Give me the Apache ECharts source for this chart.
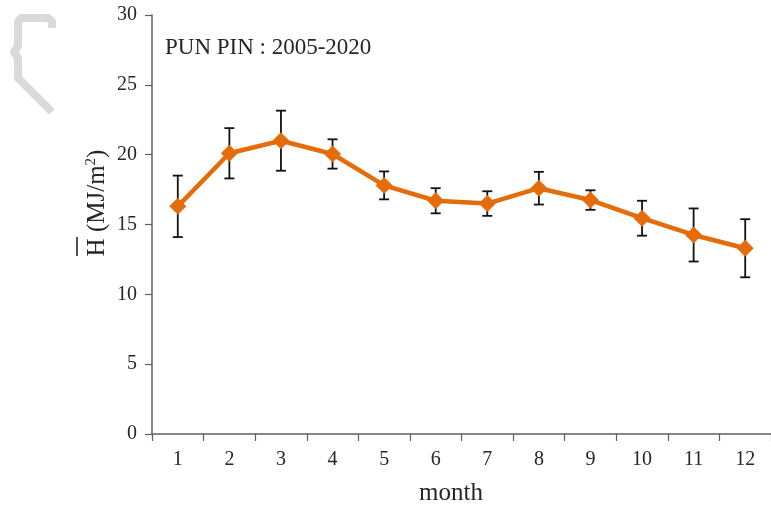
<!DOCTYPE html>
<html>
<head>
<meta charset="utf-8">
<script src="https://cdn.jsdelivr.net/npm/echarts@6/dist/echarts.min.js"></script>
<style>
  html, body { margin: 0; padding: 0; background: #fff; }
  #chart { width: 771px; height: 506px; }
</style>
</head>
<body>
<div id="chart"></div>
<script>
// Monthly mean daily irradiation (MJ/m²) with ± standard deviation
const months = ['1', '2', '3', '4', '5', '6', '7', '8', '9', '10', '11', '12'];
const meanH = [16.3, 20.1, 21.0, 20.05, 17.8, 16.7, 16.5, 17.6, 16.75, 15.45, 14.25, 13.3];
const stdH = [2.2, 1.8, 2.15, 1.05, 1.0, 0.9, 0.88, 1.17, 0.7, 1.25, 1.9, 2.08];
const yTicks = { min: 0, max: 30, interval: 5 };

const serif = '"Liberation Serif", "Times New Roman", serif';
const axisGray = '#5f5f5f';
const orange = '#E46C0A';

const errData = months.map((m, i) => [i, meanH[i] - stdH[i], meanH[i] + stdH[i]]);

const chart = echarts.init(document.getElementById('chart'), null, { renderer: 'canvas' });

chart.setOption({
  animation: false,
  backgroundColor: '#fff',
  grid: { left: 152, top: 15, bottom: 72, right: -10, containLabel: false },
  xAxis: {
    type: 'category',
    data: months,
    boundaryGap: true,
    axisLine: { lineStyle: { color: axisGray, width: 1.5 } },
    axisTick: { show: true, alignWithLabel: false, length: 7, lineStyle: { color: axisGray, width: 1.2 } },
    axisLabel: { color: '#262626', fontFamily: serif, fontSize: 20, margin: 16 },
    splitLine: { show: false }
  },
  yAxis: {
    type: 'value',
    min: yTicks.min,
    max: yTicks.max,
    interval: yTicks.interval,
    axisLine: { show: true, lineStyle: { color: axisGray, width: 1.5 } },
    axisTick: { show: true, length: 7, lineStyle: { color: axisGray, width: 1.2 } },
    axisLabel: { color: '#262626', fontFamily: serif, fontSize: 20, margin: 15 },
    splitLine: { show: false }
  },
  graphic: [
    // faint emblem in the top-left corner
    {
      type: 'polyline',
      silent: true,
      shape: { points: [[52, 28], [52, 21], [48, 18], [21, 18], [18, 22], [18, 46], [14, 52], [18, 58], [18, 78], [52, 112]] },
      style: { stroke: '#dadada', lineWidth: 8, fill: null, lineJoin: 'round' }
    },
    {
      type: 'text',
      left: 165,
      top: 36,
      style: { text: 'PUN PIN : 2005-2020', font: '23px ' + serif, fill: '#262626' }
    },
    {
      type: 'text',
      x: 451,
      y: 493,
      style: {
        text: 'month', font: '25px ' + serif, fill: '#262626',
        textAlign: 'center', textVerticalAlign: 'middle', align: 'center', verticalAlign: 'middle'
      }
    },
    {
      type: 'text',
      x: 97,
      y: 203,
      rotation: Math.PI / 2,
      style: {
        text: '{a|H (MJ/m}{s|2}{a|)}',
        textAlign: 'center', textVerticalAlign: 'middle', align: 'center', verticalAlign: 'middle',
        fill: '#262626',
        rich: {
          a: { fontFamily: serif, fontSize: 25, fill: '#262626', color: '#262626' },
          s: { fontFamily: serif, fontSize: 15, fill: '#262626', color: '#262626', verticalAlign: 'top', padding: [0, 0, 12, 0] }
        }
      }
    },
    // overline above the H
    {
      type: 'line',
      shape: { x1: 77, y1: 237, x2: 77, y2: 256 },
      style: { stroke: '#262626', lineWidth: 1.6 }
    }
  ],
  series: [
    {
      type: 'custom',
      name: 'std',
      z: 1,
      data: errData,
      renderItem: function (params, api) {
        const x = api.value(0);
        const lo = api.coord([x, api.value(1)]);
        const hi = api.coord([x, api.value(2)]);
        const cap = 5;
        const st = { stroke: '#111', lineWidth: 1.8 };
        return {
          type: 'group',
          children: [
            { type: 'line', shape: { x1: hi[0], y1: hi[1], x2: lo[0], y2: lo[1] }, style: st },
            { type: 'line', shape: { x1: hi[0] - cap, y1: hi[1], x2: hi[0] + cap, y2: hi[1] }, style: st },
            { type: 'line', shape: { x1: lo[0] - cap, y1: lo[1], x2: lo[0] + cap, y2: lo[1] }, style: st }
          ]
        };
      }
    },
    {
      type: 'line',
      name: 'H',
      z: 3,
      data: meanH,
      symbol: 'diamond',
      symbolSize: 17,
      showSymbol: true,
      itemStyle: { color: orange, borderWidth: 0 },
      lineStyle: { color: orange, width: 4.5 }
    }
  ]
});
</script>
</body>
</html>
